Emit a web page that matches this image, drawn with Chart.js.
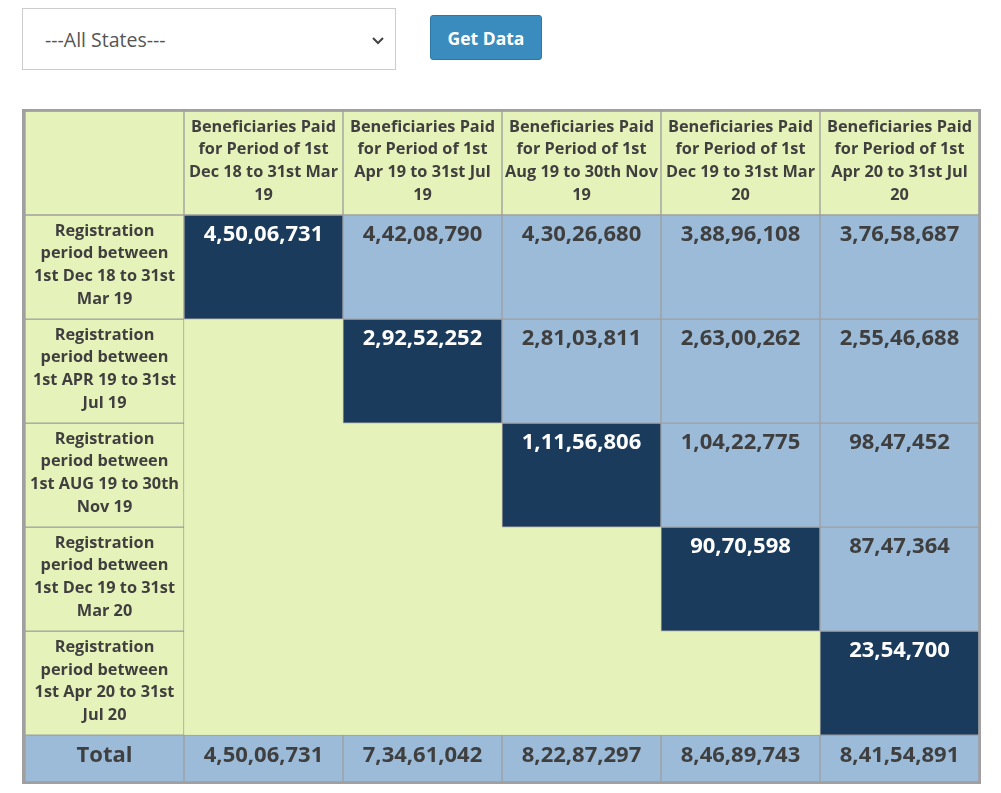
<!DOCTYPE html>
<html>
<head>
<meta charset="utf-8">
<title>Beneficiaries Paid by Registration Period</title>
<script src="https://cdn.jsdelivr.net/npm/chart.js@4.4.1/dist/chart.umd.min.js"></script>
<style>
    body { margin: 0; background: #fff; font-family: "Open Sans", sans-serif; }
    .stateBox {
        position: absolute; left: 22px; top: 8px; width: 372px; height: 60px;
        border: 1px solid #ccc; background: #fff; box-sizing: content-box;
    }
    .stateBox span {
        position: absolute; left: 22px; top: 17px; font-size: 19.5px; color: #555;
    }
    .stateBox svg { position: absolute; right: 10px; top: 27px; }
    .getBtn {
        position: absolute; left: 430px; top: 15px; width: 112px; height: 45px;
        background: #3b8cbe; color: #fff; border: 1px solid #2e78a8; border-radius: 3px;
        font-family: "Open Sans", sans-serif; font-weight: bold; font-size: 17.5px;
    }
    #tableWrap { position: absolute; left: 22px; top: 109px; width: 959px; height: 675px; }
</style>
</head>
<body>
<div class="stateBox">
    <span>---All States---</span>
    <svg width="14" height="10" viewBox="0 0 14 10"><path d="M2 2 L7 7 L12 2" fill="none" stroke="#444" stroke-width="2"/></svg>
</div>
<button class="getBtn">Get Data</button>
<div id="tableWrap"><canvas id="cohortChart"></canvas></div>

<script>
// column headers (first column holds the row labels)
const columnHeaders = [
    [],
    ['Beneficiaries Paid', 'for Period of 1st', 'Dec 18 to 31st Mar', '19'],
    ['Beneficiaries Paid', 'for Period of 1st', 'Apr 19 to 31st Jul', '19'],
    ['Beneficiaries Paid', 'for Period of 1st', 'Aug 19 to 30th Nov', '19'],
    ['Beneficiaries Paid', 'for Period of 1st', 'Dec 19 to 31st Mar', '20'],
    ['Beneficiaries Paid', 'for Period of 1st', 'Apr 20 to 31st Jul', '20']
];

// row labels
const rowLabels = [
    ['Registration', 'period between', '1st Dec 18 to 31st', 'Mar 19'],
    ['Registration', 'period between', '1st APR 19 to 31st', 'Jul 19'],
    ['Registration', 'period between', '1st AUG 19 to 30th', 'Nov 19'],
    ['Registration', 'period between', '1st Dec 19 to 31st', 'Mar 20'],
    ['Registration', 'period between', '1st Apr 20 to 31st', 'Jul 20']
];

// beneficiaries paid, one array per registration period
const rowDec18 = [45006731, 44208790, 43026680, 38896108, 37658687];
const rowApr19 = [null, 29252252, 28103811, 26300262, 25546688];
const rowAug19 = [null, null, 11156806, 10422775, 9847452];
const rowDec19 = [null, null, null, 9070598, 8747364];
const rowApr20 = [null, null, null, null, 2354700];
const valueRows = [rowDec18, rowApr19, rowAug19, rowDec19, rowApr20];

const totals = [45006731, 73461042, 82287297, 84689743, 84154891];
const totalLabel = 'Total';

const GREEN = '#e5f2b9';
const BLUE = '#9bbbd9';
const DARK = '#1a3b5b';
const GRID = '#a0a0a0';
const TEXT = '#3f3f3f';
const TOTAL_H = 0.45; // total row is shorter than the others

// indian digit grouping, 4,50,06,731
function fmtIN(n) {
    let s = String(n);
    let last3 = s.slice(-3);
    let rest = s.slice(0, -3);
    if (rest) {
        rest = rest.replace(/\B(?=(\d{2})+(?!\d))/g, ',');
        return rest + ',' + last3;
    }
    return last3;
}

const cols = columnHeaders.map((c, i) => 'c' + i);
const datasets = [];

// header row
datasets.push({
    kind: 'header',
    data: columnHeaders.map((c, i) => [0, 1]),
    texts: columnHeaders,
    backgroundColor: GREEN
});

// body rows
valueRows.forEach(function (row, r) {
    const data = [[r + 1, r + 2]];
    const texts = [rowLabels[r]];
    const bg = [GREEN];
    row.forEach(function (v, c) {
        data.push(v == null ? null : [r + 1, r + 2]);
        texts.push(v == null ? [] : [fmtIN(v)]);
        bg.push(c === r ? DARK : BLUE);
    });
    datasets.push({ kind: 'row', data: data, texts: texts, backgroundColor: bg });
});

// total row
const last = valueRows.length + 1;
datasets.push({
    kind: 'total',
    data: cols.map(() => [last, last + TOTAL_H]),
    texts: [[totalLabel]].concat(totals.map(v => [fmtIN(v)])),
    backgroundColor: BLUE
});

datasets.forEach(function (d) {
    d.borderColor = GRID;
    d.borderWidth = 1;
    d.borderSkipped = false;
    d.grouped = false;
    d.barPercentage = 1;
    d.categoryPercentage = 1;
});

const tablePlugin = {
    id: 'tablePlugin',
    beforeDatasetsDraw(chart) {
        const a = chart.chartArea;
        const ctx = chart.ctx;
        ctx.save();
        ctx.fillStyle = GREEN;
        ctx.fillRect(a.left, a.top, a.right - a.left, a.bottom - a.top);
        ctx.restore();
    },
    afterDatasetsDraw(chart) {
        const ctx = chart.ctx;
        const a = chart.chartArea;
        ctx.save();
        ctx.textAlign = 'center';
        ctx.textBaseline = 'middle';
        chart.data.datasets.forEach(function (ds, di) {
            const meta = chart.getDatasetMeta(di);
            meta.data.forEach(function (el, i) {
                if (ds.data[i] == null) return;
                const lines = ds.texts[i] || [];
                const top = Math.min(el.y, el.base);
                const bottom = Math.max(el.y, el.base);
                const dark = Array.isArray(ds.backgroundColor) && ds.backgroundColor[i] === DARK;
                ctx.fillStyle = dark ? '#ffffff' : TEXT;
                if (ds.kind === 'header' || (ds.kind === 'row' && i === 0)) {
                    ctx.font = 'bold 16.3px "Open Sans"';
                    const lh = 22.6;
                    const start = (top + bottom) / 2 - lh * (lines.length - 1) / 2 - 2;
                    lines.forEach((t, k) => ctx.fillText(t, el.x, start + k * lh));
                } else if (ds.kind === 'total') {
                    ctx.font = 'bold 22px "Open Sans"';
                    ctx.fillText(lines[0], el.x, top + 21);
                } else {
                    ctx.font = 'bold 22px "Open Sans"';
                    ctx.fillText(lines[0], el.x, top + 20);
                }
            });
        });
        // outer table border
        ctx.strokeStyle = GRID;
        ctx.lineWidth = 3;
        ctx.strokeRect(a.left - 1.5, a.top - 1, a.right - a.left + 2.5, a.bottom - a.top + 2);
        ctx.restore();
    }
};

new Chart(document.getElementById('cohortChart'), {
    type: 'bar',
    data: { labels: cols, datasets: datasets },
    options: {
        responsive: true,
        maintainAspectRatio: false,
        animation: false,
        layout: { padding: { left: 3, top: 2, right: 2, bottom: 2 } },
        plugins: { legend: { display: false }, tooltip: { enabled: false } },
        scales: {
            x: { type: 'category', display: false, offset: true },
            y: { type: 'linear', display: false, reverse: true, min: 0, max: last + TOTAL_H }
        }
    },
    plugins: [tablePlugin]
});
</script>
</body>
</html>
